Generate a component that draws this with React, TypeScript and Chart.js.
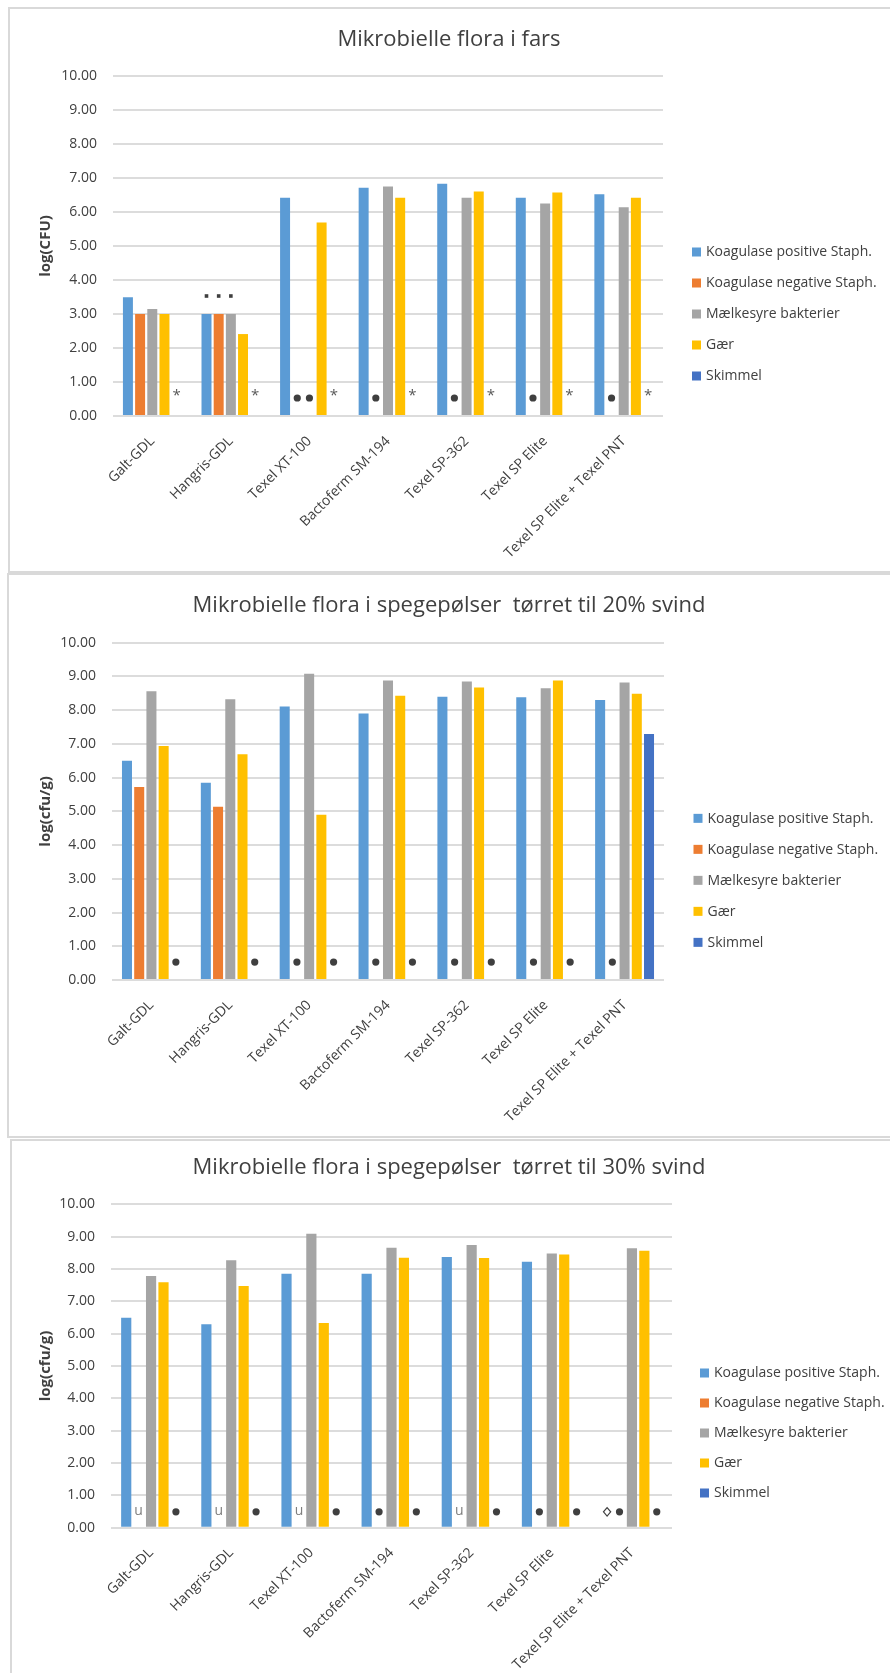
import React, { useEffect, useRef } from 'react';
import { Chart, registerables } from 'chart.js';

Chart.register(...registerables);

// ---- shared categories / series ----
const categories = [
  'Galt-GDL',
  'Hangris-GDL',
  'Texel XT-100',
  'Bactoferm SM-194',
  'Texel SP-362',
  'Texel SP Elite',
  'Texel SP Elite + Texel PNT',
];
const seriesNames = [
  'Koagulase positive Staph.',
  'Koagulase negative Staph.',
  'Mælkesyre bakterier',
  'Gær',
  'Skimmel',
];
const seriesColors = ['#5B9BD5', '#ED7D31', '#A5A5A5', '#FFC000', '#4472C4'];
const yMin = 0;
const yMax = 10;
const yStep = 1;

// ---- fars ----
const farsTitle = 'Mikrobielle flora i fars';
const farsAxisTitle = 'log(CFU)';
const farsKoagPos = [3.49, 3.0, 6.42, 6.71, 6.83, 6.42, 6.52];
const farsKoagNeg = [3.0, 3.0, null, null, null, null, null];
const farsMaelk = [3.15, 3.0, null, 6.75, 6.42, 6.25, 6.14];
const farsGaer = [3.0, 2.41, 5.69, 6.42, 6.6, 6.57, 6.42];
const farsSkimmel = [null, null, null, null, null, null, null];
// [category, series, symbol]
const farsMarks = [
  [0, 4, 'star'], [1, 4, 'star'], [2, 4, 'star'], [3, 4, 'star'],
  [4, 4, 'star'], [5, 4, 'star'], [6, 4, 'star'],
  [1, 0, 'square'], [1, 1, 'square'], [1, 2, 'square'],
  [2, 1, 'dot'], [2, 2, 'dot'], [3, 1, 'dot'], [4, 1, 'dot'], [5, 1, 'dot'], [6, 1, 'dot'],
];

// ---- spegepølser, 20% svind ----
const svind20Title = 'Mikrobielle flora i spegepølser  tørret til 20% svind';
const svind20AxisTitle = 'log(cfu/g)';
const svind20KoagPos = [6.5, 5.85, 8.11, 7.9, 8.4, 8.38, 8.3];
const svind20KoagNeg = [5.72, 5.14, null, null, null, null, null];
const svind20Maelk = [8.56, 8.32, 9.08, 8.88, 8.85, 8.65, 8.82];
const svind20Gaer = [6.94, 6.69, 4.9, 8.43, 8.67, 8.88, 8.49];
const svind20Skimmel = [null, null, null, null, null, null, 7.29];
const svind20Marks = [
  [0, 4, 'dot'], [1, 4, 'dot'],
  [2, 1, 'dot'], [2, 4, 'dot'],
  [3, 1, 'dot'], [3, 4, 'dot'],
  [4, 1, 'dot'], [4, 4, 'dot'],
  [5, 1, 'dot'], [5, 4, 'dot'],
  [6, 1, 'dot'],
];

// ---- spegepølser, 30% svind ----
const svind30Title = 'Mikrobielle flora i spegepølser  tørret til 30% svind';
const svind30AxisTitle = 'log(cfu/g)';
const svind30KoagPos = [6.49, 6.29, 7.85, 7.85, 8.37, 8.22, null];
const svind30KoagNeg = [null, null, null, null, null, null, null];
const svind30Maelk = [7.78, 8.27, 9.09, 8.66, 8.74, 8.48, 8.64];
const svind30Gaer = [7.59, 7.47, 6.33, 8.35, 8.34, 8.45, 8.56];
const svind30Skimmel = [null, null, null, null, null, null, null];
const svind30Marks = [
  [0, 1, 'u'], [0, 4, 'dot'],
  [1, 1, 'u'], [1, 4, 'dot'],
  [2, 1, 'u'], [2, 4, 'dot'],
  [3, 1, 'dot'], [3, 4, 'dot'],
  [4, 1, 'u'], [4, 4, 'dot'],
  [5, 1, 'dot'], [5, 4, 'dot'],
  [6, 0, 'diamond'], [6, 1, 'dot'], [6, 4, 'dot'],
];

const FONT = '"Open Sans", "Noto Sans", sans-serif';
const TEXT_DARK = '#404040';

// Symbols drawn near the axis for series that have no bar
const markPlugin = {
  id: 'marks',
  afterDatasetsDraw(chart: any, _args: any, opts: any) {
    const items = opts.items || [];
    const level = opts.level;
    const { ctx } = chart;
    const y = chart.scales.y;
    ctx.save();
    for (const [ci, si, sym] of items) {
      const el = chart.getDatasetMeta(si).data[ci];
      if (!el) continue;
      const x = el.x;
      ctx.fillStyle = '#3f3f3f';
      ctx.strokeStyle = '#3f3f3f';
      if (sym === 'dot') {
        const py = y.getPixelForValue(level);
        ctx.beginPath();
        ctx.arc(x, py, 3.6, 0, Math.PI * 2);
        ctx.fill();
      } else if (sym === 'star') {
        const py = y.getPixelForValue(level + 0.15);
        ctx.fillStyle = '#595959';
        ctx.font = `15px ${FONT}`;
        ctx.textAlign = 'center';
        ctx.textBaseline = 'middle';
        ctx.fillText('*', x, py + 3);
      } else if (sym === 'u') {
        const py = y.getPixelForValue(level);
        ctx.fillStyle = '#7f7f7f';
        ctx.font = `14px ${FONT}`;
        ctx.textAlign = 'center';
        ctx.textBaseline = 'middle';
        ctx.fillText('u', x, py - 1);
      } else if (sym === 'diamond') {
        const py = y.getPixelForValue(level);
        ctx.lineWidth = 1.2;
        ctx.beginPath();
        ctx.moveTo(x, py - 4.2);
        ctx.lineTo(x + 3.6, py);
        ctx.lineTo(x, py + 4.2);
        ctx.lineTo(x - 3.6, py);
        ctx.closePath();
        ctx.stroke();
      } else if (sym === 'square') {
        const v = chart.data.datasets[si].data[ci];
        const py = y.getPixelForValue(v) - 18;
        ctx.fillRect(x - 1.8, py - 1.8, 3.6, 3.6);
      }
    }
    ctx.restore();
  },
};

// Legend to the right of the plot area
const sideLegendPlugin = {
  id: 'sideLegend',
  afterDraw(chart: any, _args: any, opts: any) {
    const { ctx, chartArea } = chart;
    const ds = chart.data.datasets;
    const n = ds.length;
    const cy = (chartArea.top + chartArea.bottom) / 2 + opts.shiftY;
    const bx = chartArea.right + opts.boxOffset;
    ctx.save();
    ctx.font = `14px ${FONT}`;
    ctx.textBaseline = 'middle';
    ctx.textAlign = 'left';
    ds.forEach((d: any, i: number) => {
      const yy = cy + (i - (n - 1) / 2) * opts.gap;
      ctx.fillStyle = d.backgroundColor;
      ctx.fillRect(bx, yy - 4.5, 9, 9);
      ctx.fillStyle = TEXT_DARK;
      ctx.fillText(d.label, bx + 14, yy + 0.5);
    });
    ctx.restore();
  },
};

type Panel = {
  key: string;
  title: string;
  axisTitle: string;
  series: (number | null)[][];
  marks: any[];
  markLevel: number;
  top: number;
  height: number;
  titlePadTop: number;
  titlePadBottom: number;
  yWidth: number;
  xHeight: number;
  legendWidth: number;
  legendGap: number;
  legendShift: number;
  legendOffset: number;
};

const CANVAS_LEFT = 9;
const CANVAS_WIDTH = 880;

const panels: Panel[] = [
  {
    key: 'fars',
    title: farsTitle,
    axisTitle: farsAxisTitle,
    series: [farsKoagPos, farsKoagNeg, farsMaelk, farsGaer, farsSkimmel],
    marks: farsMarks,
    markLevel: 0.53,
    top: 9,
    height: 561,
    titlePadTop: 17.8,
    titlePadBottom: 22.8,
    yWidth: 104,
    xHeight: 154,
    legendWidth: 226,
    legendGap: 31,
    legendShift: 68,
    legendOffset: 29,
  },
  {
    key: 'svind20',
    title: svind20Title,
    axisTitle: svind20AxisTitle,
    series: [svind20KoagPos, svind20KoagNeg, svind20Maelk, svind20Gaer, svind20Skimmel],
    marks: svind20Marks,
    markLevel: 0.53,
    top: 575,
    height: 561,
    titlePadTop: 17.8,
    titlePadBottom: 23.5,
    yWidth: 103,
    xHeight: 156,
    legendWidth: 225,
    legendGap: 31,
    legendShift: 69,
    legendOffset: 29.5,
  },
  {
    key: 'svind30',
    title: svind30Title,
    axisTitle: svind30AxisTitle,
    series: [svind30KoagPos, svind30KoagNeg, svind30Maelk, svind30Gaer, svind30Skimmel],
    marks: svind30Marks,
    markLevel: 0.49,
    top: 1141,
    height: 532,
    titlePadTop: 13.8,
    titlePadBottom: 23.1,
    yWidth: 102,
    xHeight: 145.3,
    legendWidth: 217,
    legendGap: 30,
    legendShift: 67,
    legendOffset: 28,
  },
];

function BarPanel({ p }: { p: Panel }) {
  const ref = useRef<HTMLCanvasElement | null>(null);

  useEffect(() => {
    if (!ref.current) return;
    const chart = new Chart(ref.current, {
      type: 'bar',
      data: {
        labels: categories,
        datasets: p.series.map((vals, i) => ({
          label: seriesNames[i],
          data: vals,
          backgroundColor: seriesColors[i],
          borderWidth: 0,
          categoryPercentage: 0.775,
          barPercentage: 0.82,
          yAxisID: 'y',
        })),
      },
      options: {
        responsive: false,
        animation: false,
        events: [],
        layout: { padding: 0 },
        plugins: {
          legend: { display: false },
          tooltip: { enabled: false },
          title: {
            display: true,
            text: p.title,
            color: TEXT_DARK,
            font: { family: FONT, size: 22, weight: 'normal', lineHeight: 1.2 },
            padding: { top: p.titlePadTop, bottom: p.titlePadBottom },
          },
          marks: { items: p.marks, level: p.markLevel },
          sideLegend: { gap: p.legendGap, shiftY: p.legendShift, boxOffset: p.legendOffset },
        } as any,
        scales: {
          x: {
            grid: { display: false, drawTicks: false },
            border: { display: false },
            ticks: {
              autoSkip: false,
              minRotation: 45,
              maxRotation: 45,
              padding: 17,
              color: TEXT_DARK,
              font: { family: FONT, size: 14 },
            },
            afterFit: (scale: any) => {
              scale.height = p.xHeight;
            },
          },
          y: {
            min: yMin,
            max: yMax,
            grid: { color: '#dcdcdc', lineWidth: 2, drawTicks: false },
            border: { display: false },
            ticks: {
              stepSize: yStep,
              padding: 16,
              color: TEXT_DARK,
              font: { family: FONT, size: 14 },
              callback: (v: any) => Number(v).toFixed(2),
            },
            title: {
              display: true,
              text: p.axisTitle,
              color: TEXT_DARK,
              font: { family: FONT, size: 15, weight: 'bold', lineHeight: 1.2 },
              padding: { top: 28, bottom: 0 },
            },
            afterFit: (scale: any) => {
              scale.width = p.yWidth;
            },
          },
          // empty right-hand box that reserves room for the legend
          legendSpace: {
            type: 'linear',
            position: 'right',
            min: yMin,
            max: yMax,
            grid: { display: false, drawTicks: false },
            border: { display: false },
            ticks: { display: false },
            afterFit: (scale: any) => {
              scale.width = p.legendWidth;
            },
          },
        } as any,
      },
      plugins: [markPlugin, sideLegendPlugin],
    });
    return () => chart.destroy();
  }, [p]);

  return (
    <canvas
      ref={ref}
      width={CANVAS_WIDTH}
      height={p.height}
      style={{
        position: 'absolute',
        left: CANVAS_LEFT,
        top: p.top,
        width: CANVAS_WIDTH,
        height: p.height,
      }}
    />
  );
}

const frameStyle = (left: number, top: number, height: number): React.CSSProperties => ({
  position: 'absolute',
  left,
  top,
  width: 1000,
  height,
  boxSizing: 'border-box',
  border: '2px solid #d9d9d9',
  background: '#fff',
});

export default function App() {
  return (
    <div
      style={{
        position: 'absolute',
        left: 0,
        top: 0,
        width: 890,
        height: 1673,
        overflow: 'hidden',
        background: '#fff',
      }}
    >
      <div style={frameStyle(8, 7, 566)} />
      <div style={frameStyle(7, 573, 565)} />
      <div style={frameStyle(10, 1139, 600)} />
      {panels.map((p) => (
        <BarPanel key={p.key} p={p} />
      ))}
    </div>
  );
}
